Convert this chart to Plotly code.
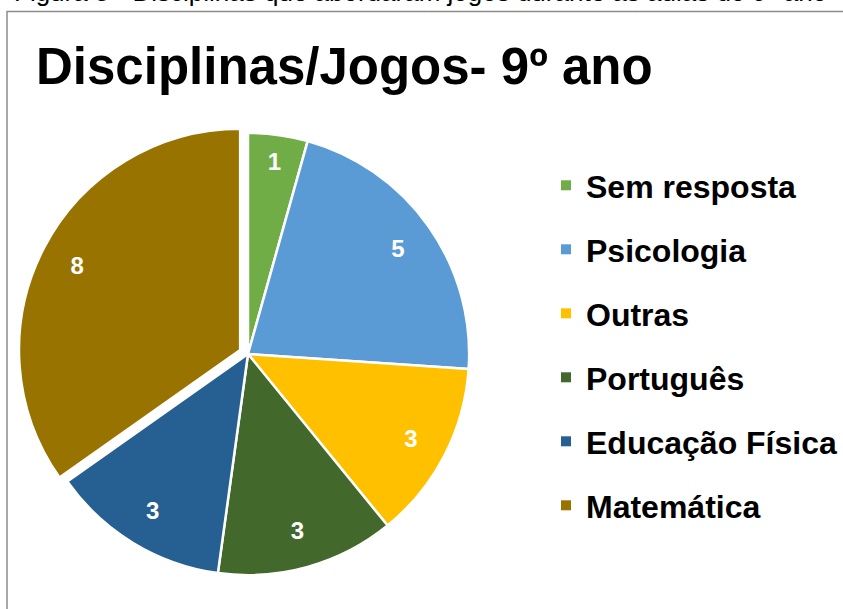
import plotly.graph_objects as go

W, H = 843, 609

labels = ["Sem resposta", "Psicologia", "Outras", "Português", "Educação Física", "Matemática"]
values = [1, 5, 3, 3, 3, 8]
colors = ["#70AD47", "#5B9BD5", "#FFC000", "#43682B", "#265F91", "#997300"]
pulls = [0, 0, 0, 0, 0, 0.04]

FONT = "Liberation Sans, Arial, sans-serif"


def px_x(v):
    return v / W


def px_y(v):
    return 1 - v / H


pie_domain = {"x": [px_x(18), px_x(478)], "y": [px_y(584), px_y(124)]}

fig = go.Figure()
fig.add_trace(go.Pie(
    labels=labels,
    values=values,
    sort=False,
    direction="clockwise",
    rotation=0,
    pull=pulls,
    marker={"colors": colors, "line": {"color": "white", "width": 2.5}},
    textinfo="none",
    domain=pie_domain,
    showlegend=False,
    hoverinfo="label+value",
))

# transparent ring on top: only carries the value labels, placed out towards the rim
fig.add_trace(go.Pie(
    labels=labels,
    values=values,
    sort=False,
    direction="clockwise",
    rotation=0,
    pull=pulls,
    hole=0.66,
    marker={"colors": ["rgba(0,0,0,0)"] * len(labels), "line": {"width": 0}},
    textinfo="value",
    textposition="inside",
    insidetextorientation="horizontal",
    textfont={"family": FONT, "size": 24, "color": "white", "weight": "bold"},
    domain=pie_domain,
    showlegend=False,
    hoverinfo="skip",
))

# legend entries as separate marker traces so the row spacing can be set
for lab, col in zip(labels, colors):
    fig.add_trace(go.Scatter(
        x=[None], y=[None], mode="markers", name=lab, legendgroup=lab,
        marker={"symbol": "square", "size": 10, "color": col},
    ))

fig.add_shape(type="rect", xref="paper", yref="paper",
              x0=px_x(7), x1=px_x(900), y0=px_y(700), y1=px_y(11.5),
              line={"color": "#8c8c8c", "width": 1.5}, fillcolor="rgba(0,0,0,0)")

fig.add_annotation(
    text="Figura 5 - Disciplinas que abordaram jogos durante as aulas do 9º ano",
    xref="paper", yref="paper", x=px_x(12), y=px_y(9), xanchor="left", yanchor="bottom",
    showarrow=False, font={"family": FONT, "size": 26, "color": "black"},
)

fig.update_layout(
    width=W, height=H,
    paper_bgcolor="white", plot_bgcolor="white",
    margin={"l": 0, "r": 0, "t": 0, "b": 0},
    title={
        "text": "Disciplinas/Jogos- 9º ano",
        "x": px_x(36), "xanchor": "left", "xref": "paper",
        "y": px_y(66), "yanchor": "middle", "yref": "paper",
        "font": {"family": FONT, "size": 51, "color": "black", "weight": "bold"},
    },
    xaxis={"visible": False},
    yaxis={"visible": False},
    legend={
        "x": px_x(546), "xanchor": "left",
        "y": px_y(158), "yanchor": "top",
        "font": {"family": FONT, "size": 32, "color": "black", "weight": "bold"},
        "tracegroupgap": 19.4,
        "bgcolor": "rgba(0,0,0,0)",
    },
)

fig.write_html(
    "out.html",
    config={"displayModeBar": False},
    post_script="document.body.style.margin='0px'; document.body.style.overflow='hidden';",
)
